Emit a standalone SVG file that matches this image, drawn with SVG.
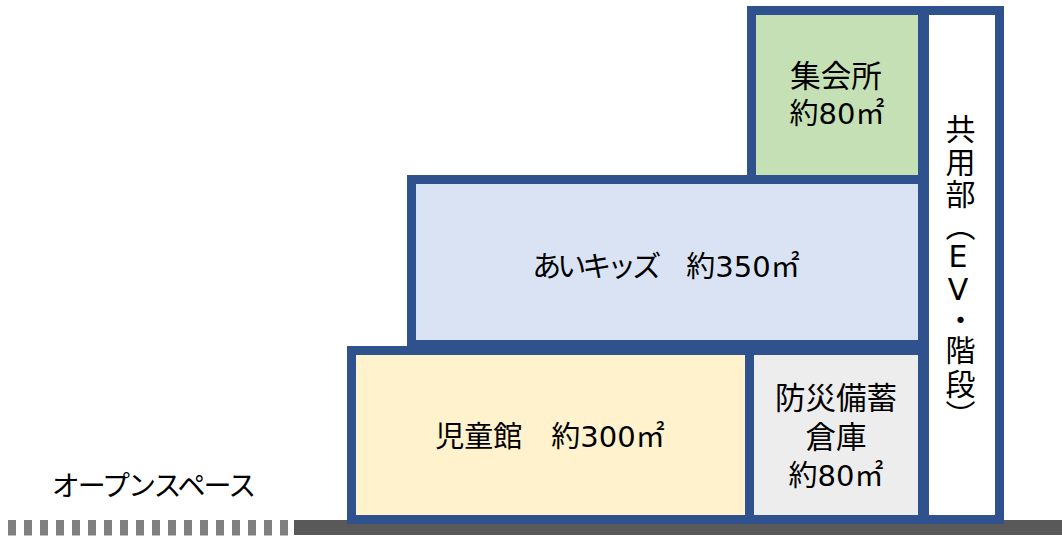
<svg xmlns="http://www.w3.org/2000/svg" width="1062" height="539" viewBox="0 0 1062 539">
  <style>
    .room { stroke: #2F528F; stroke-width: 9; }
    .lbl { font-family: "DejaVu Sans", "Noto Sans CJK JP", sans-serif; font-size: 29px; fill: #000; text-anchor: middle; dominant-baseline: central; }
    .big { font-size: 30.5px; }
    .kana { letter-spacing: -4px; }
    .vlbl { font-family: "DejaVu Sans", "Noto Sans CJK JP", sans-serif; font-size: 30px; fill: #000; writing-mode: vertical-rl; text-orientation: upright; }
  </style>
  <rect width="1062" height="539" fill="#FFFFFF"/>
  <g id="ground">
    <line x1="8" y1="527.75" x2="288" y2="527.75" stroke="#808080" stroke-width="15.5" stroke-dasharray="8 8"/>
    <rect x="294" y="520" width="768" height="15" fill="#595959"/>
  </g>
  <g id="common">
    <rect class="room" x="924.5" y="10.5" width="75" height="509" fill="#FFFFFF"/>
    <text class="vlbl" x="958"><tspan x="958" y="114">共</tspan><tspan x="958" y="146.7">用</tspan><tspan x="958" y="178.3">部</tspan><tspan x="958" y="211">（</tspan><tspan x="958" y="239">E</tspan><tspan x="958" y="271.5">V</tspan><tspan x="958" y="304.5">・</tspan><tspan x="958" y="335">階</tspan><tspan x="958" y="368.5">段</tspan><tspan x="958" y="400">）</tspan></text>
  </g>
  <g id="shukaijo">
    <rect class="room" x="751.5" y="10.5" width="171" height="169" fill="#C5E0B4"/>
    <text class="lbl big" x="836" y="76">集会所</text>
    <text class="lbl" x="837" y="114">約80㎡</text>
  </g>
  <g id="aikids">
    <rect class="room" x="411.5" y="179.5" width="511" height="165" fill="#DAE3F3"/>
    <text class="lbl" x="666" y="267"><tspan class="kana">あいキッズ</tspan>　約350㎡</text>
  </g>
  <g id="jidokan">
    <rect class="room" x="351.5" y="350.5" width="398" height="169" fill="#FFF2CC"/>
    <text class="lbl" x="550" y="437">児童館　約300㎡</text>
  </g>
  <g id="bosai">
    <rect class="room" x="749.5" y="350.5" width="173" height="169" fill="#EDEDED"/>
    <text class="lbl big" x="836" y="398">防災備蓄</text>
    <text class="lbl big" x="836" y="437">倉庫</text>
    <text class="lbl" x="836" y="476">約80㎡</text>
  </g>
  <g id="openspace">
    <text class="lbl kana" x="153" y="486" style="font-size:28px;letter-spacing:-2px">オープンスペース</text>
  </g>
  <g id="connectors"></g>
</svg>
